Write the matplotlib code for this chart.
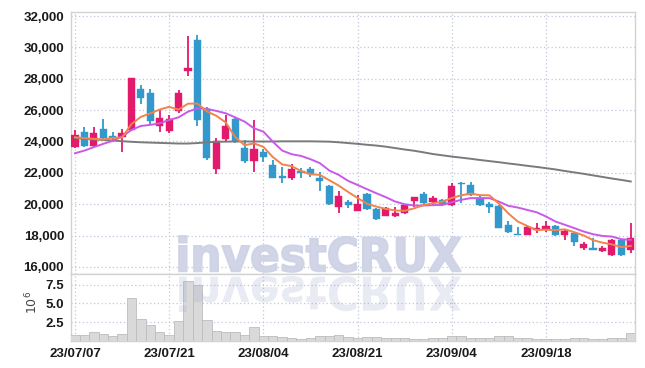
import matplotlib
matplotlib.use('Agg')
import matplotlib.pyplot as plt
import numpy as np
import pandas as pd
from matplotlib.textpath import TextPath
from matplotlib.patches import PathPatch
from matplotlib.font_manager import FontProperties
from matplotlib.transforms import Affine2D, IdentityTransform
from matplotlib.ticker import FuncFormatter, FixedLocator

# ---------------- data ----------------
holidays = ['2023-08-15', '2023-09-28', '2023-09-29', '2023-10-02', '2023-10-03']
dates = [d for d in pd.bdate_range('2023-07-07', '2023-10-05')
         if d.strftime('%Y-%m-%d') not in holidays]

opens = [23650, 24590, 23740, 24800, 24350, 24270, 24740, 27330, 27110, 25010,
         24690, 25970, 28520, 30470, 26060, 22230, 24150, 25440, 23610, 22780,
         23360, 22510, 21830, 21660, 22150, 22230, 21660, 21170, 19810, 20130,
         19600, 20660, 19710, 19260, 19220, 19430, 20210, 20660, 20170, 20280,
         19920, 21380, 21230, 20390, 20000, 19900, 18690, 18100, 18010, 18360,
         18410, 18620, 18010, 18150, 17200, 17200, 16990, 16780, 17730, 17090]
highs = [24740, 24910, 24950, 25420, 24630, 24780, 28050, 27600, 27330, 26100,
         25690, 27290, 30730, 30790, 26220, 24210, 25690, 25500, 24100, 25370,
         23510, 22830, 22360, 22550, 22300, 22400, 22080, 21230, 20850, 20280,
         20600, 20700, 19750, 19850, 19810, 20000, 20490, 20810, 20530, 20330,
         21380, 21440, 21440, 20500, 20130, 19980, 18900, 18580, 18670, 18830,
         18900, 18690, 18370, 18190, 17580, 17840, 17350, 17800, 17800, 18790]
lows = [23570, 23670, 23670, 24100, 23990, 23350, 24700, 26390, 25100, 24630,
        24570, 25800, 28180, 24990, 22830, 21940, 23990, 23900, 22650, 22080,
        22720, 21660, 21380, 21550, 21660, 21760, 20870, 19960, 19470, 19750,
        19600, 19640, 19000, 19220, 19180, 19390, 19850, 19960, 19960, 19900,
        19900, 20060, 20530, 19900, 19470, 18500, 18160, 18010, 18010, 18190,
        18260, 17990, 17690, 17350, 17100, 17100, 16930, 16710, 16720, 16900]
closes = [24420, 23720, 24530, 24210, 24220, 24570, 28030, 26800, 25330, 25480,
          25420, 27110, 28710, 25370, 22970, 24060, 24990, 24040, 22760, 23530,
          23000, 21700, 21700, 22230, 21980, 21930, 21510, 20010, 20530, 19920,
          20020, 19690, 19070, 19790, 19410, 19960, 20450, 20070, 20390, 19920,
          21170, 21300, 20600, 19920, 19850, 18510, 18200, 18010, 18540, 18510,
          18620, 18050, 18300, 17620, 17480, 17110, 17240, 17730, 16780, 17840]
volumes_m = [0.86, 0.86, 1.13, 0.99, 0.73, 0.99, 5.73, 2.94, 2.19, 1.13,
             0.86, 2.72, 8.02, 7.40, 2.81, 1.39, 1.26, 1.26, 0.86, 1.92,
             0.60, 0.73, 0.56, 0.42, 0.29, 0.42, 0.60, 0.73, 0.86, 0.50,
             0.42, 0.50, 0.50, 0.42, 0.40, 0.35, 0.30, 0.25, 0.35, 0.45,
             0.73, 0.60, 0.45, 0.40, 0.45, 0.73, 0.60, 0.45, 0.40, 0.30,
             0.25, 0.25, 0.30, 0.45, 0.35, 0.30, 0.25, 0.35, 0.40, 1.05]
ma5 = [24270, 24210, 24170, 24130, 24220, 24250, 25110, 25570, 25790, 26040,
       26210, 26030, 26410, 26420, 25920, 25640, 25220, 24290, 23760, 23880,
       23660, 23010, 22540, 22430, 22120, 21910, 21870, 21530, 21190, 20780,
       20400, 20030, 19850, 19700, 19600, 19580, 19740, 19940, 20060, 20160,
       20400, 20570, 20680, 20580, 20570, 20040, 19420, 18900, 18620, 18350,
       18380, 18350, 18400, 18220, 18010, 17710, 17550, 17440, 17270, 17340]
ma20 = [23250, 23420, 23640, 23850, 24040, 24310, 24740, 24990, 25060, 25160,
        25370, 25540, 25900, 26120, 26080, 25950, 25800, 25540, 25270, 24840,
        24630, 23990, 23420, 23190, 23080, 22870, 22620, 22150, 21870, 21490,
        21230, 20960, 20700, 20450, 20170, 20000, 19920, 19920, 19940, 19960,
        20130, 20280, 20390, 20390, 20390, 20170, 19900, 19790, 19640, 19490,
        19220, 18900, 18690, 18480, 18260, 18090, 17980, 17940, 17770, 17730]
ma_long = [24210, 24170, 24130, 24100, 24060, 24020, 23980, 23950, 23930, 23910,
           23890, 23870, 23870, 23900, 23950, 23980, 23990, 24000, 24000, 24000,
           24000, 24000, 24010, 24010, 24010, 24010, 24000, 23990, 23950, 23900,
           23850, 23790, 23740, 23670, 23580, 23490, 23410, 23310, 23200, 23120,
           23040, 22970, 22900, 22820, 22750, 22680, 22600, 22530, 22450, 22380,
           22300, 22220, 22120, 22030, 21940, 21840, 21740, 21640, 21550, 21450]
price_ticks = [16000, 18000, 20000, 22000, 24000, 26000, 28000, 30000, 32000]
vol_ticks = [2.5, 5.0, 7.5]
date_tick_idx = [0, 10, 20, 30, 40, 50]

# ---------------- style ----------------
RED = '#e3196b'
BLUE = '#3399cc'
GRID = '#c3c7dc'
SPINE = '#d2d2d2'
TICKFONT = dict(family=['Liberation Sans', 'DejaVu Sans'], size=9.5, weight='bold')

W, H = 645, 368
fig = plt.figure(figsize=(W / 100, H / 100), dpi=100)


def rect(l, t, r, b):
    return [l / W, 1 - b / H, (r - l) / W, (b - t) / H]


ax = fig.add_axes(rect(71, 12, 635, 274))
axv = fig.add_axes(rect(71, 274, 635, 341), sharex=ax)

x = np.arange(len(dates))
o = np.array(opens); c = np.array(closes)
hi = np.array(highs); lo = np.array(lows)
up = c >= o
cols = np.where(up, RED, BLUE)

ax.vlines(x, lo, hi, colors=cols, lw=1.3, zorder=3)
ax.bar(x, np.abs(c - o), bottom=np.minimum(o, c), width=0.76, color=cols,
       edgecolor=cols, lw=0.3, zorder=3)
ax.plot(x, ma_long, color='#7a7a7a', lw=1.4, zorder=4)
ax.plot(x, ma20, color='#c95ae8', lw=1.4, zorder=4)
ax.plot(x, ma5, color='#f0844c', lw=1.4, zorder=4)

axv.bar(x, np.array(volumes_m) * 1e6, width=1.0, color='#d9d9d9',
        edgecolor='#bdbdbd', lw=0.6, zorder=3)

ax.set_xlim(-0.42, 59.45)
ax.set_ylim(15553, 32255)
axv.set_ylim(0, 8.9e6)

ax.yaxis.set_major_locator(FixedLocator(price_ticks))
ax.yaxis.set_major_formatter(FuncFormatter(lambda v, p: f'{v:,.0f}'))
axv.yaxis.set_major_locator(FixedLocator([v * 1e6 for v in vol_ticks]))
axv.yaxis.set_major_formatter(FuncFormatter(lambda v, p: f'{v / 1e6:.1f}'))
axv.xaxis.set_major_locator(FixedLocator(date_tick_idx))
axv.xaxis.set_major_formatter(FuncFormatter(
    lambda v, p: dates[int(round(v))].strftime('%y/%m/%d') if 0 <= int(round(v)) < len(dates) else ''))
plt.setp(ax.get_xticklabels(), visible=False)

for a in (ax, axv):
    a.grid(True, linestyle=(0, (1, 2)), color=GRID, lw=0.9, zorder=0)
    a.set_axisbelow(True)
    a.tick_params(length=0, pad=5, colors='#1a1a1a')
    for lab in a.get_yticklabels() + a.get_xticklabels():
        lab.set_fontproperties(FontProperties(**TICKFONT))
    for s in a.spines.values():
        s.set_color(SPINE)
        s.set_linewidth(1.0)

fig.text(32 / W, 1 - 302 / H, r'$10^{6}$', rotation=90, ha='center', va='center',
         fontsize=9, color='#444444')

# ---------------- watermark ----------------
fp = FontProperties(family='DejaVu Sans', weight='bold')
tp = TextPath((0, 0), 'investCRUX', size=100, prop=fp)
bb = tp.get_extents()
x0, x1 = 179, 461
ytop, ybase = 236, 272
sx = (x1 - x0) / bb.width
sy = (ybase - ytop) / bb.height
tr = Affine2D().translate(-bb.x0, -bb.y0).scale(sx, sy).translate(x0, H - ybase)
path = tr.transform_path(tp)
fig.add_artist(PathPatch(path, facecolor='#cdd2e5', edgecolor='#cdd2e5', lw=1.3,
                         alpha=0.92, transform=IdentityTransform(), zorder=5))
mirror_y = H - 274
tr2 = tr + Affine2D().translate(0, -mirror_y).scale(1, -1).translate(0, mirror_y)
path2 = tr2.transform_path(tp)
fig.add_artist(PathPatch(path2, facecolor=(0.60, 0.65, 0.80), alpha=0.22, lw=0,
                         transform=IdentityTransform(), zorder=5))

fig.savefig('out.png', dpi=100)
